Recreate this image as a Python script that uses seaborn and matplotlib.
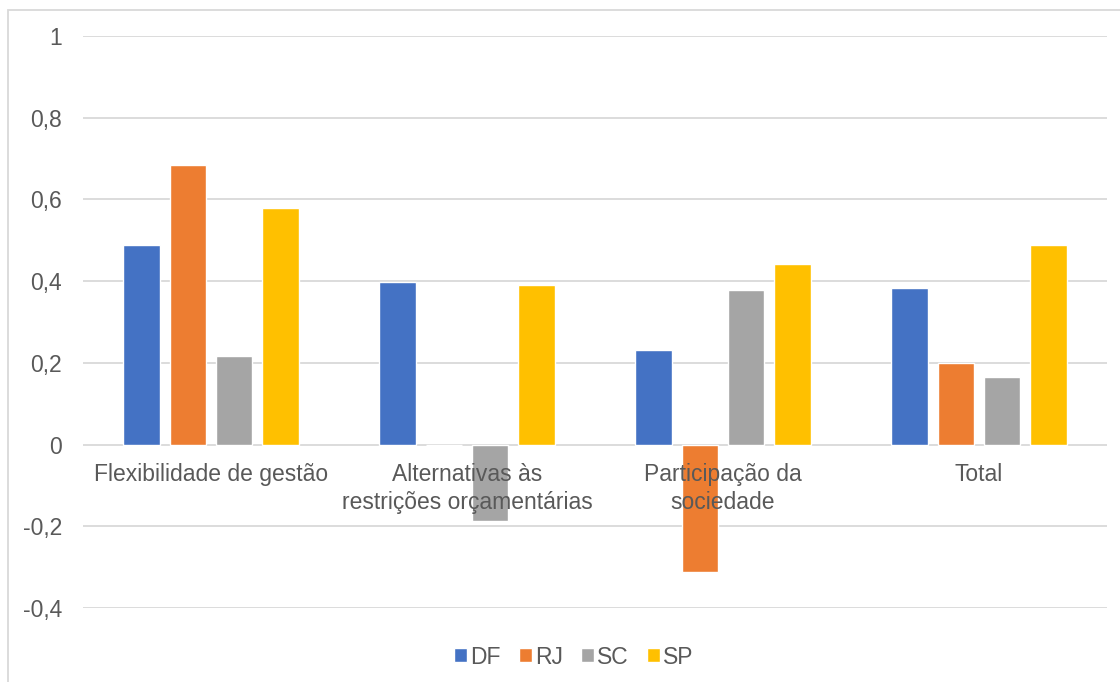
import matplotlib
matplotlib.use("Agg")
import matplotlib.pyplot as plt
import seaborn as sns
import pandas as pd
from matplotlib.patches import Rectangle
from matplotlib.ticker import FuncFormatter

categories = [
    "Flexibilidade de gestão",
    "Alternativas às\nrestrições orçamentárias",
    "Participação da\nsociedade",
    "Total",
]
states = ["DF", "RJ", "SC", "SP"]
df_vals = [0.489, 0.399, 0.231, 0.383]
rj_vals = [0.684, 0.0, -0.311, 0.199]
sc_vals = [0.218, -0.186, 0.379, 0.165]
sp_vals = [0.579, 0.390, 0.442, 0.488]
yticks = [-0.4, -0.2, 0, 0.2, 0.4, 0.6, 0.8, 1]

colors = ["#4472C4", "#ED7D31", "#A5A5A5", "#FFC000"]

rows = []
for st, vals in zip(states, [df_vals, rj_vals, sc_vals, sp_vals]):
    for cat, v in zip(categories, vals):
        rows.append({"categoria": cat, "estado": st, "valor": v})
data = pd.DataFrame(rows)

sns.set_theme(style="white")
plt.rcParams["font.family"] = ["Liberation Sans", "DejaVu Sans"]
text_color = "#595959"
fs = 16.5

fig = plt.figure(figsize=(11.2, 6.82), dpi=100)
ax = fig.add_axes([83 / 1120, 1 - 608 / 682, (1107 - 83) / 1120, (608 - 36) / 682])

sns.barplot(
    data=data, x="categoria", y="valor", hue="estado",
    order=categories, hue_order=states, palette=colors,
    width=0.72, gap=0.2, saturation=1, ax=ax, zorder=2,
)

ax.set_ylim(-0.4, 1.0)
ax.set_xlim(-0.5, 3.5)
ax.set_yticks(yticks)
ax.yaxis.set_major_formatter(
    FuncFormatter(lambda v, _: ("%g" % round(v, 1)).replace(".", ","))
)
ax.grid(axis="y", color="#D9D9D9", linewidth=1.3)
ax.set_axisbelow(True)
ax.xaxis.set_zorder(3)  # category names stay on top of the bars
for s in ax.spines.values():
    s.set_visible(False)

# category labels sit just under the zero line
ax.spines["bottom"].set_position(("data", 0))
ax.tick_params(axis="x", length=0, pad=13, labelsize=fs, labelcolor=text_color)
ax.tick_params(axis="y", length=0, pad=15, labelsize=fs, labelcolor=text_color)
for lbl in ax.get_xticklabels():
    lbl.set_verticalalignment("top")
    lbl.set_linespacing(1.3)
ax.set_xlabel("")
ax.set_ylabel("")

leg = ax.legend(
    loc="center", bbox_to_anchor=(574 / 1120, 1 - 657 / 682),
    bbox_transform=fig.transFigure, ncol=4, frameon=False,
    fontsize=fs, labelcolor=text_color, handlelength=0.55, handleheight=0.55,
    handletextpad=0.15, columnspacing=0.8,
)

# chart frame
fig.patches.append(Rectangle((8 / 1120, -0.01), 1.02, 1 - 10 / 682 + 0.01,
                             transform=fig.transFigure, fill=False,
                             edgecolor="#D9D9D9", linewidth=1.3))

fig.savefig("out.png", dpi=100)
